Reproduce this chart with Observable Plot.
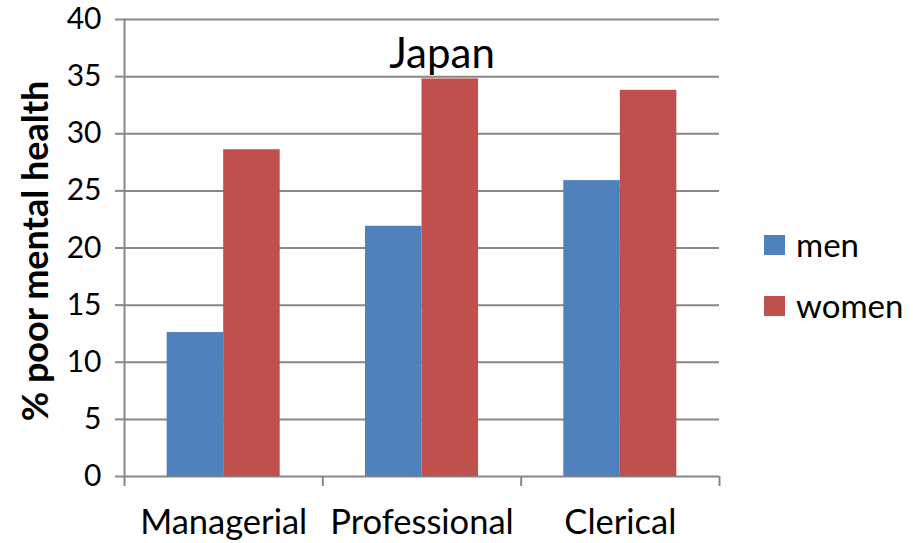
<!DOCTYPE html>
<html>
<head>
<meta charset="utf-8">
<script src="https://cdn.jsdelivr.net/npm/d3@7"></script>
<script src="https://cdn.jsdelivr.net/npm/@observablehq/plot@0.6"></script>
<style>
  html, body { margin: 0; padding: 0; background: #fff; }
  #chart { position: relative; width: 913px; height: 543px; font-family: Lato, sans-serif; }
  #chart svg text { fill: #000; }
  #chart svg g[aria-label="x-axis tick"], #chart svg g[aria-label="y-axis tick"],
  #chart svg g[aria-label="x-axis"] line, #chart svg g[aria-label="y-axis"] line { stroke-width: 2; stroke: #878787; }
  .legend-item { position: absolute; left: 764px; display: flex; align-items: center; font-size: 33px; line-height: 33px; color: #000; }
  .legend-item .swatch { width: 21px; height: 20px; margin-right: 11px; }
</style>
</head>
<body>
<div id="chart"></div>
<script>
// Share of workers reporting poor mental health, by occupation and sex (Japan)
const categories = ["Managerial", "Professional", "Clerical"];
const men = [12.6, 21.9, 25.9];
const women = [28.6, 34.8, 33.8];
const seriesNames = ["men", "women"];
const seriesColors = ["#4F81BD", "#C0504D"];
const yTicks = [0, 5, 10, 15, 20, 25, 30, 35, 40];
const title = "Japan";
const yLabel = "% poor mental health";

const values = { men, women };
const rows = categories.flatMap((category, slot) =>
  seriesNames.map(series => ({ category, slot, series, value: values[series][slot] }))
);

// Each category occupies one unit on x; the two bars sit side by side in its middle.
const barStart = { men: 0.215, women: 0.5 };
const barEnd = { men: 0.5, women: 0.785 };
const gridColor = "#878787";

const plot = Plot.plot({
  width: 913,
  height: 543,
  marginLeft: 124,
  marginRight: 194,
  marginTop: 19,
  marginBottom: 67,
  style: { fontFamily: "Lato, sans-serif", fontSize: "30px", color: gridColor, background: "white", overflow: "visible" },
  x: { domain: [0, categories.length], ticks: d3.range(categories.length + 1), tickFormat: () => "", tickSize: 10, label: null },
  y: { domain: [0, 40], ticks: yTicks, tickSize: 9, tickPadding: 14, label: null },
  color: { domain: seriesNames, range: seriesColors },
  marks: [
    Plot.ruleY(yTicks, { stroke: gridColor, strokeWidth: 2 }),
    Plot.ruleX([0], { stroke: gridColor, strokeWidth: 2 }),
    Plot.rectY(rows, {
      x1: d => d.slot + barStart[d.series],
      x2: d => d.slot + barEnd[d.series],
      y: "value",
      fill: "series"
    }),
    Plot.text(categories, {
      x: (d, i) => i + 0.5,
      y: () => 0,
      text: d => d,
      dy: 46,
      fontSize: 34.5,
      fill: "#000",
      textAnchor: "middle"
    }),
    Plot.text([title], {
      frameAnchor: "top",
      text: d => d,
      dx: 20,
      dy: 19,
      fontSize: 42,
      fill: "#000"
    }),
    Plot.text([yLabel], {
      frameAnchor: "left",
      text: d => d,
      rotate: -90,
      dx: -88,
      dy: 3,
      fontSize: 36,
      fontWeight: "bold",
      fill: "#000",
      textAnchor: "middle"
    })
  ]
});

const chart = document.getElementById("chart");
chart.appendChild(plot);

// Legend to the right of the plot area
const legendTops = [228, 289];
seriesNames.forEach((name, i) => {
  const item = document.createElement("div");
  item.className = "legend-item";
  item.style.top = legendTops[i] + "px";
  const sw = document.createElement("span");
  sw.className = "swatch";
  sw.style.background = seriesColors[i];
  item.appendChild(sw);
  item.appendChild(document.createTextNode(name));
  chart.appendChild(item);
});
</script>
</body>
</html>
